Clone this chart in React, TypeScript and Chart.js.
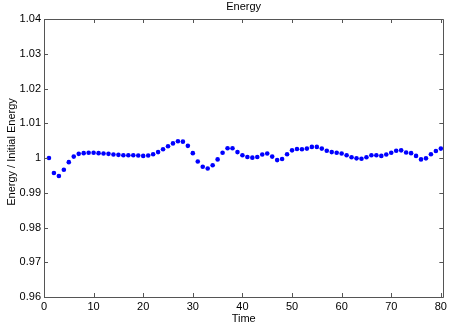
import React, { useEffect, useRef } from "react";
import { Chart, registerables } from "chart.js";

Chart.register(...registerables);

const TITLE = "Energy";
const X_LABEL = "Time";
const Y_LABEL = "Energy / Initial Energy";

const times = [
  1, 2, 3, 4, 5, 6, 7, 8, 9, 10, 11, 12, 13, 14, 15, 16, 17, 18, 19, 20,
  21, 22, 23, 24, 25, 26, 27, 28, 29, 30, 31, 32, 33, 34, 35, 36, 37, 38, 39, 40,
  41, 42, 43, 44, 45, 46, 47, 48, 49, 50, 51, 52, 53, 54, 55, 56, 57, 58, 59, 60,
  61, 62, 63, 64, 65, 66, 67, 68, 69, 70, 71, 72, 73, 74, 75, 76, 77, 78, 79, 80,
];

const energyRatio = [
  1.0, 0.9957, 0.9948, 0.9966, 0.9988, 1.0004, 1.0012, 1.0014, 1.0015, 1.0015,
  1.0014, 1.0013, 1.0012, 1.001, 1.0009, 1.0008, 1.0008, 1.0008, 1.0007, 1.0006,
  1.0007, 1.0011, 1.0017, 1.0025, 1.0034, 1.0042, 1.0048, 1.0047, 1.0035, 1.0014,
  0.999, 0.9975, 0.997, 0.9979, 0.9996, 1.0015, 1.0028, 1.0028, 1.0017, 1.0008,
  1.0003, 1.0001, 1.0003, 1.001, 1.0013, 1.0004, 0.9994, 0.9997, 1.0011, 1.0022,
  1.0026, 1.0025, 1.0027, 1.0032, 1.0032, 1.0027, 1.0021, 1.0017, 1.0015, 1.0013,
  1.0008, 1.0002, 0.9999, 0.9998, 1.0002, 1.0008, 1.0008, 1.0006, 1.001, 1.0015,
  1.0021, 1.0022, 1.0016, 1.0014, 1.0006, 0.9996, 0.9999, 1.0011, 1.002, 1.0027,
];

const xTicks = [0, 10, 20, 30, 40, 50, 60, 70, 80];
const yTicks = [0.96, 0.97, 0.98, 0.99, 1.0, 1.01, 1.02, 1.03, 1.04];

const FONT = '"Liberation Sans", Arial, Helvetica, sans-serif';

const matlabAxes = {
  id: "matlabAxes",
  afterDraw(chart: any) {
    const { ctx, chartArea } = chart;
    const { left, right, top, bottom } = chartArea;
    const xs = chart.scales.x;
    const ys = chart.scales.y;
    ctx.save();
    ctx.strokeStyle = "#555";
    ctx.lineWidth = 1;
    ctx.beginPath();
    ctx.rect(Math.round(left) + 0.5, Math.round(top) + 0.5, Math.round(right - left), Math.round(bottom - top));
    ctx.stroke();
    const tl = 4;
    ctx.beginPath();
    for (const v of xTicks) {
      const px = Math.round(xs.getPixelForValue(v)) + 0.5;
      ctx.moveTo(px, bottom);
      ctx.lineTo(px, bottom - tl);
      ctx.moveTo(px, top);
      ctx.lineTo(px, top + tl);
    }
    for (const v of yTicks) {
      const py = Math.round(ys.getPixelForValue(v)) + 0.5;
      ctx.moveTo(left, py);
      ctx.lineTo(left + tl, py);
      ctx.moveTo(right, py);
      ctx.lineTo(right - tl, py);
    }
    ctx.stroke();

    ctx.fillStyle = "#000";
    ctx.font = `11px ${FONT}`;
    ctx.textAlign = "center";
    ctx.textBaseline = "alphabetic";
    ctx.fillText(TITLE, (left + right) / 2, 10);
    ctx.fillText(X_LABEL, (left + right) / 2, 321.5);
    ctx.translate(14.5, 152);
    ctx.rotate(-Math.PI / 2);
    ctx.fillText(Y_LABEL, 0, 0);
    ctx.restore();
  },
};

export default function App() {
  const canvasRef = useRef<HTMLCanvasElement | null>(null);

  useEffect(() => {
    const canvas = canvasRef.current;
    if (!canvas) return;
    const points = times.map((t, i) => ({ x: t, y: energyRatio[i] }));
    const chart = new Chart(canvas, {
      type: "scatter",
      data: {
        datasets: [
          {
            data: points,
            backgroundColor: "#0000ff",
            borderColor: "#0000ff",
            pointRadius: 2.3,
            pointBorderWidth: 0,
            showLine: false,
          },
        ],
      },
      plugins: [matlabAxes],
      options: {
        responsive: false,
        animation: false,
        events: [],
        layout: { padding: { top: 19, right: 5, left: 0, bottom: 0 } },
        plugins: {
          legend: { display: false },
          title: { display: false },
          tooltip: { enabled: false },
        },
        scales: {
          x: {
            type: "linear",
            min: 0,
            max: 80.5,
            afterBuildTicks: (scale: any) => {
              scale.ticks = xTicks.map((v) => ({ value: v }));
            },
            afterFit: (scale: any) => {
              scale.height = 27;
            },
            grid: { display: false, drawTicks: false },
            border: { display: false },
            ticks: {
              padding: 3,
              color: "#000",
              font: { family: FONT, size: 11 },
              maxRotation: 0,
              autoSkip: false,
              callback: (v: any) => String(v),
            },
          },
          y: {
            type: "linear",
            min: 0.96,
            max: 1.04,
            afterBuildTicks: (scale: any) => {
              scale.ticks = yTicks.map((v) => ({ value: v }));
            },
            afterFit: (scale: any) => {
              scale.width = 44;
            },
            grid: { display: false, drawTicks: false },
            border: { display: false },
            ticks: {
              padding: 3,
              color: "#000",
              font: { family: FONT, size: 11 },
              autoSkip: false,
              callback: (v: any) => String(parseFloat(Number(v).toFixed(2))),
            },
          },
        },
      },
    } as any);
    return () => chart.destroy();
  }, []);

  return (
    <div style={{ position: "fixed", left: 0, top: 0, width: 450, height: 324, background: "#fff" }}>
      <canvas ref={canvasRef} width={450} height={324} />
    </div>
  );
}
